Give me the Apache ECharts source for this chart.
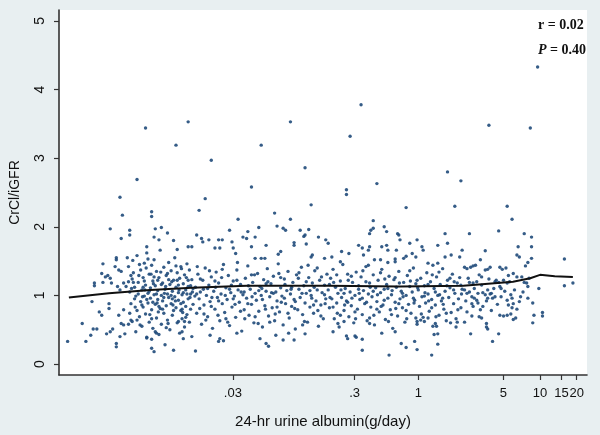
<!DOCTYPE html>
<html><head><meta charset="utf-8">
<script src="https://cdn.jsdelivr.net/npm/echarts@6/dist/echarts.min.js"></script>
<style>html,body{margin:0;padding:0;background:#e8eff1;}#c{width:600px;height:435px;}</style>
</head><body><div id="c"></div>
<script>
// Tick values / labels
const xTickValues = [0.03, 0.3, 1, 5, 10, 15, 20];
const xTickLabels = ['.03', '.3', '1', '5', '10', '15', '20'];
const yTickValues = [0, 1, 2, 3, 4, 5];

// Smoothed fit line: 24-hr urine albumin (g/day) vs CrCl/iGFR
const fitAlbumin = [0.00135, 0.00288, 0.0063, 0.0138, 0.039, 0.182, 0.71, 2.34, 6.0, 8.3, 10, 13.2, 18.6];
const fitRatio   = [0.97, 1.03, 1.08, 1.11, 1.14, 1.14, 1.13, 1.14, 1.20, 1.25, 1.30, 1.28, 1.27];

// Scatter points: [log10 of 24-hr urine albumin (g/day), CrCl/iGFR]
const outlierPoints = [
[-2.24,3.44],[-1.99,3.19],[-1.89,3.53],[-1.70,2.97],[-1.29,3.19],[-1.05,3.53],[-0.56,3.32],[-0.47,3.78],[0.58,3.48],[0.92,3.44],[0.98,4.33],[-0.93,2.86],[-0.59,2.54],[-0.59,2.47],[-0.34,2.63],[0.24,2.80],[0.35,2.67],[0.30,2.30],[-0.10,2.28],[0.73,2.30],[0.77,2.11],[-2.31,2.69],[-2.45,2.43],[-2.43,2.17],[-2.19,2.22],[-2.19,2.15],[-1.75,2.41],[-1.80,2.24],[-1.37,2.58],[-0.88,2.32],[-1.18,2.20],[-1.48,2.11],[-1.05,2.11],[-0.37,2.09]
];
const lowAlbuminPoints = [
[-2.53,1.97],[-2.37,1.95],[-2.37,1.88],[-2.16,1.97],[-2.11,1.99],[-2.06,1.91],[-2.44,1.83],[-2.23,1.71],[-2.17,1.85],[-2.13,1.81],[-2.01,1.80],[-1.98,1.67],[-1.89,1.71],[-1.86,1.71],[-2.59,1.46],[-2.48,1.55],[-2.48,1.52],[-2.39,1.55],
[-2.88,0.33],[-2.76,0.59],[-2.73,0.33],[-2.69,0.42],[-2.67,0.51],[-2.64,0.51],[-2.68,0.91],[-2.66,1.18],[-2.66,1.14],[-2.62,0.76],[-2.60,0.71],[-2.60,1.32],[-2.57,1.27],[-2.55,1.29],[-2.53,1.25],[-2.59,1.19],[-2.52,1.18],[-2.56,0.44],[-2.53,0.47],[-2.51,0.51],[-2.48,0.30],[-2.48,0.25],[-2.54,0.88],[-2.54,0.81],[-2.49,1.42],[-2.46,1.37],[-2.44,1.35],[-2.47,1.13],[-2.45,1.08],[-2.42,1.18],[-2.40,1.13],[-2.38,1.20],[-2.46,0.71],[-2.42,0.79],[-2.44,0.59],[-2.42,0.57],[-2.38,0.58],[-2.36,0.64],[-2.41,0.44],[-2.45,0.40],
[-2.19,0.23],[-2.17,0.18],[-2.23,0.39],[-2.19,0.36],[-2.16,0.47],[-2.15,0.45],[-1.94,0.47],[-1.93,0.37],[-1.97,0.62],[-1.92,0.62],
[-2.38,1.42],[-2.37,1.05],[-2.36,0.88],[-2.35,1.24],[-2.35,0.62],[-2.34,1.33],[-2.33,0.95],[-2.33,1.12],[-2.32,0.47],[-2.31,1.58],[-2.31,0.78],[-2.30,1.02],[-2.30,1.19],[-2.29,0.69],[-2.28,1.37],[-2.28,0.91],[-2.27,1.08],[-2.27,0.55],[-2.26,1.26],[-2.26,0.83],[-2.25,1.47],[-2.25,0.99],[-2.24,1.15],[-2.24,0.73],[-2.23,1.62],[-2.23,0.38],[-2.22,1.03],[-2.22,0.89],[-2.21,1.31],[-2.21,0.61],[-2.20,1.11],[-2.20,0.96],[-2.19,1.44],[-2.19,0.79],[-2.18,1.21],[-2.18,0.52],[-2.17,1.01],[-2.17,1.52],[-2.16,0.87],[-2.16,1.14],[-2.15,0.67],[-2.15,1.35],[-2.14,0.94],[-2.14,1.07],[-2.13,0.43],[-2.13,1.26],[-2.12,0.81],[-2.12,1.66],[-2.11,1.00],[-2.11,0.58],[-2.10,1.18],[-2.10,0.92],[-2.09,1.41],[-2.09,0.74],[-2.08,1.09],[-2.08,0.28],[-2.07,1.29],[-2.07,0.85],[-2.06,1.02],[-2.06,0.64],[-2.05,1.48],[-2.05,0.97],[-2.04,1.16],[-2.04,0.50],[-2.03,1.36],[-2.03,0.88],[-2.02,1.06],[-2.02,0.71],[-2.01,1.22],[-2.01,0.20],[-2.00,0.98],[-2.00,1.55],[-1.99,0.82],[-1.99,1.12],[-1.98,0.60],[-1.98,1.33],[-1.97,0.93],[-1.97,1.04],[-1.96,0.45],[-1.96,1.25],[-1.95,0.78],[-1.95,1.42],[-1.94,1.01],[-1.94,0.66],[-1.93,1.17],[-1.93,0.90],[-1.92,1.30],[-1.92,0.54],[-1.91,1.08],[-1.91,0.84],[-1.90,1.46],[-1.90,0.72],[-1.89,1.13],[-1.89,0.95],[-1.88,1.37],[-1.88,0.61],[-1.87,1.02],[-1.87,0.80],[-1.86,1.23],[-1.86,0.40],[-1.85,1.10],[-1.85,0.87],
[-2.355,1.10],[-2.325,0.83],[-2.295,1.29],[-2.265,0.98],[-2.235,1.40],[-2.205,0.72],[-2.175,1.17],[-2.145,0.89],[-2.115,1.34],[-2.085,1.03],[-2.055,0.59],[-2.025,1.20],[-1.995,0.92],[-1.965,1.08],[-1.935,0.75],[-1.905,1.26],[-1.875,0.97],[-1.855,1.05],[-2.345,1.51],[-2.285,0.57],[-2.245,1.08],[-2.195,1.31],[-2.135,0.76],[-2.075,1.13],[-2.015,0.86],[-1.945,1.39],
[-2.37,0.74],[-2.34,1.19],[-2.32,0.99],[-2.29,1.45],[-2.27,0.86],[-2.25,1.21],[-2.23,0.94],[-2.21,1.06],[-2.19,0.66],[-2.17,1.27],[-2.15,1.02],[-2.13,0.84],[-2.11,1.16],[-2.09,0.97],[-2.07,0.53],[-2.05,1.23],[-2.03,1.00],[-2.01,0.78],[-1.99,1.43],[-1.97,1.15],[-1.95,0.88],[-1.93,1.04],[-1.91,0.68],[-1.89,1.22],[-1.87,1.14],[-2.36,1.29],[-2.31,0.64],[-2.26,1.12],[-2.22,1.53],[-2.18,0.90],[-2.14,1.22],[-2.10,0.80],[-2.06,1.32],[-2.02,0.95],[-1.98,1.22],[-1.94,0.80],[-1.90,1.02]
];
const midAlbuminPoints = [
[-1.83,0.19],[-1.64,0.33],[-1.63,0.37],[-1.60,0.34],[-1.49,0.45],[-1.30,0.37],[-1.25,0.30],[-1.23,0.26],[-1.17,0.42],[-1.11,0.35],[-1.02,0.35],[-0.93,0.44],[-1.71,0.42],
[-1.82,1.88],[-1.78,1.83],[-1.77,1.78],[-1.72,1.81],[-1.64,1.81],[-1.61,1.81],[-1.67,1.69],[-1.63,1.69],[-1.55,1.95],[-1.53,1.78],[-1.52,1.69],[-1.50,1.61],[-1.44,1.85],[-1.41,1.83],[-1.40,1.93],[-1.34,1.85],[-1.37,1.71],[-1.31,1.99],[-1.25,1.73],[-1.16,2.01],[-1.11,1.98],[-1.09,1.95],[-1.15,1.60],[-1.13,1.64],[-1.02,1.73],[-1.02,1.77],[-0.97,1.95],[-0.94,1.86],[-0.93,1.88],[-0.90,1.96],[-0.87,1.59],[-0.88,1.56],[-0.82,1.85],[-0.76,1.81],[-0.77,1.54],[-0.92,1.75],[-1.29,1.54],[-1.26,1.54],[-1.34,1.54],
[-1.83,1.12],[-1.82,0.74],[-1.81,1.31],[-1.80,0.95],[-1.79,1.05],[-1.78,0.58],[-1.77,1.22],[-1.76,0.86],[-1.75,1.40],[-1.74,1.00],[-1.73,0.69],[-1.72,1.15],[-1.71,0.91],[-1.70,1.27],[-1.69,0.52],[-1.68,1.06],[-1.67,0.80],[-1.66,1.34],[-1.65,0.97],[-1.64,1.18],[-1.63,0.63],[-1.62,1.02],[-1.61,0.88],[-1.60,1.45],[-1.59,0.75],[-1.58,1.11],[-1.57,0.94],[-1.56,1.29],[-1.55,0.56],[-1.54,1.04],[-1.53,0.83],[-1.52,1.21],[-1.51,0.99],[-1.50,0.68],[-1.49,1.37],[-1.48,1.08],[-1.47,0.90],[-1.46,1.16],[-1.45,0.48],[-1.44,1.01],[-1.43,0.79],[-1.42,1.25],[-1.41,0.96],[-1.40,1.43],[-1.39,0.71],[-1.38,1.09],[-1.37,0.87],[-1.36,1.19],[-1.35,0.60],[-1.34,1.03],[-1.33,0.93],[-1.32,1.32],[-1.31,0.77],[-1.30,1.13],[-1.29,1.00],[-1.28,0.54],[-1.27,1.23],[-1.26,0.85],[-1.25,1.06],[-1.24,1.39],[-1.23,0.70],[-1.22,0.98],[-1.21,1.17],[-1.20,0.82],[-1.19,1.28],[-1.18,0.63],[-1.17,1.05],[-1.16,0.92],[-1.15,1.46],[-1.14,0.76],[-1.13,1.11],[-1.12,0.99],[-1.11,0.57],[-1.10,1.24],[-1.09,0.88],[-1.08,1.07],[-1.07,1.35],[-1.06,0.67],[-1.05,1.02],[-1.04,0.84],[-1.03,1.19],[-1.02,0.94],[-1.01,0.51],[-1.00,1.30],[-0.99,0.79],[-0.98,1.09],[-0.97,0.97],[-0.96,1.41],[-0.95,0.72],[-0.94,1.14],[-0.93,0.89],[-0.92,1.03],[-0.91,0.61],[-0.90,1.26],[-0.89,0.83],[-0.88,1.00],[-0.87,1.18],[-0.86,0.74],[-0.85,1.36],[-0.84,0.92],[-0.83,1.08],[-0.82,0.55],[-0.81,1.22],[-0.80,0.86],[-0.79,1.04],[-0.78,0.66],[-0.77,1.15],[-0.76,0.95],[-0.75,1.31],
[-1.835,0.99],[-1.815,1.42],[-1.795,0.81],[-1.765,1.09],[-1.745,0.64],[-1.715,1.36],[-1.695,0.97],[-1.665,1.12],[-1.645,0.71],[-1.615,1.26],[-1.585,1.00],[-1.565,0.61],[-1.535,1.15],[-1.505,0.87],[-1.485,1.48],[-1.455,1.05],[-1.425,0.66],[-1.395,1.14],[-1.365,0.98],[-1.345,1.30],[-1.315,0.59],[-1.285,1.10],[-1.255,0.80],[-1.235,1.20],[-1.205,1.04],[-1.175,0.73],[-1.145,1.32],[-1.125,0.90],[-1.095,1.16],[-1.065,0.45],[-1.045,1.09],[-1.015,0.81],[-0.985,1.25],[-0.955,1.03],[-0.935,0.62],[-0.905,1.44],[-0.875,0.96],[-0.855,1.12],[-0.825,0.78],[-0.795,1.27],[-0.765,0.88],
[-1.82,1.02],[-1.79,1.24],[-1.76,0.73],[-1.73,1.10],[-1.70,0.84],[-1.67,1.21],[-1.64,0.92],[-1.61,1.38],[-1.58,0.66],[-1.55,1.09],[-1.52,0.95],[-1.49,1.22],[-1.46,0.77],[-1.43,1.05],[-1.40,0.88],[-1.37,1.30],[-1.34,0.69],[-1.31,1.07],[-1.28,0.94],[-1.25,1.17],[-1.22,0.61],[-1.19,1.03],[-1.16,0.83],[-1.13,1.26],[-1.10,0.96],[-1.07,0.74],[-1.04,1.12],[-1.01,0.91],[-0.98,1.33],[-0.95,0.57],[-0.92,1.20],[-0.89,1.07],[-0.86,0.86],[-0.83,1.40],[-0.80,0.70],[-0.77,1.01]
];
const highAlbuminPoints = [
[-0.74,1.76],[-0.71,1.56],[-0.63,1.64],[-0.57,1.61],[-0.64,1.49],[-0.49,1.73],[-0.46,1.69],[-0.45,1.59],[-0.41,1.66],[-0.40,1.71],[-0.39,1.95],[-0.37,1.98],[-0.40,1.90],[-0.28,2.00],[-0.26,1.93],[-0.30,1.71],[-0.26,1.73],[-0.25,1.66],[-0.17,1.90],[-0.16,1.88],[-0.15,1.81],[-0.18,1.66],[-0.07,1.76],[-0.01,1.81],[0.03,1.71],[0.04,1.66],[-0.05,1.61],[-0.02,1.56],[-0.31,1.52],[-0.36,1.52],[-0.41,1.44],[0.16,1.73],[0.22,1.90],[0.24,1.76],[0.22,1.56],[0.27,1.59],[0.34,1.56],[0.36,1.66],[0.08,1.47],[0.12,1.44],[0.16,1.47],[-0.12,1.54],[-0.10,1.57],[-0.25,1.48],[-0.19,1.53],[-0.19,1.49],
[-0.70,0.47],[-0.59,0.41],[-0.58,0.37],[-0.52,0.41],[-0.51,0.39],[-0.46,0.36],[-0.46,0.20],[-0.30,0.45],[-0.19,0.47],[-0.14,0.30],[-0.10,0.24],[-0.03,0.33],[-0.01,0.21],[-0.24,0.13],[0.11,0.13],[0.13,0.43],[0.16,0.44],[0.16,0.29],[0.14,0.59],[0.15,0.55],[0.31,0.54],[-0.66,0.59],[-0.61,0.62],[-0.40,0.59],[-0.02,0.67],[-0.01,0.62],[0.05,0.62],[0.08,0.67],
[-0.74,1.08],[-0.73,0.82],[-0.72,1.25],[-0.71,0.95],[-0.70,1.38],[-0.69,0.66],[-0.68,1.12],[-0.67,0.89],[-0.66,1.03],[-0.65,0.54],[-0.64,1.21],[-0.63,0.97],[-0.62,1.45],[-0.61,0.78],[-0.60,1.10],[-0.59,0.92],[-0.58,1.31],[-0.57,0.69],[-0.56,1.05],[-0.55,0.85],[-0.54,1.19],[-0.53,0.60],[-0.52,1.00],[-0.51,1.34],[-0.50,0.80],[-0.49,1.14],[-0.48,0.94],[-0.47,1.27],[-0.46,0.72],[-0.45,1.07],[-0.44,0.88],[-0.43,1.42],[-0.42,0.63],[-0.41,1.02],[-0.40,1.18],[-0.39,0.83],[-0.38,0.98],[-0.37,1.30],[-0.36,0.57],[-0.35,1.11],[-0.34,0.91],[-0.33,1.22],[-0.32,0.76],[-0.31,1.04],[-0.30,1.38],[-0.29,0.86],[-0.28,1.09],[-0.27,0.65],[-0.26,1.16],[-0.25,0.96],[-0.24,1.28],[-0.23,0.79],[-0.22,1.01],[-0.21,0.52],[-0.20,1.23],[-0.19,0.90],[-0.18,1.12],[-0.17,0.70],[-0.16,1.35],[-0.15,0.95],[-0.14,1.06],[-0.13,0.82],[-0.12,1.19],[-0.11,0.61],[-0.10,1.00],[-0.09,1.29],[-0.08,0.87],[-0.07,1.13],[-0.06,0.74],[-0.05,1.05],[-0.04,1.40],[-0.03,0.93],[-0.02,1.17],[-0.01,0.58],[0.00,1.08],[0.01,0.84],[0.02,1.25],[0.03,0.98],[0.04,0.68],[0.05,1.14],[0.06,0.89],[0.07,1.33],[0.08,1.02],[0.09,0.77],[0.10,1.20],[0.11,0.94],[0.12,0.55],[0.13,1.10],[0.14,0.86],[0.15,1.27],[0.16,1.00],[0.17,0.71],[0.18,1.16],[0.19,0.92],[0.20,1.39],[0.21,0.80],[0.22,1.06],[0.23,0.63],[0.24,1.22],[0.25,0.97],[0.26,1.11],[0.27,0.75],[0.28,1.31],[0.29,0.88],[0.30,1.03],[0.31,0.66],[0.32,1.18],[0.33,0.95],[0.34,1.26],[0.35,0.82],[0.36,1.09],
[-0.725,0.97],[-0.695,1.19],[-0.665,0.74],[-0.635,1.08],[-0.605,0.86],[-0.575,1.22],[-0.545,0.96],[-0.515,0.66],[-0.485,1.03],[-0.455,1.36],[-0.425,0.90],[-0.395,1.12],[-0.365,0.71],[-0.335,1.01],[-0.305,0.84],[-0.275,1.24],[-0.245,0.62],[-0.215,1.07],[-0.185,0.81],[-0.155,1.18],[-0.125,0.98],[-0.095,0.66],[-0.065,1.21],[-0.035,0.89],[-0.005,1.11],[0.025,0.73],[0.055,1.04],[0.085,0.92],[0.115,1.30],[0.145,0.69],[0.175,1.01],[0.205,0.87],[0.235,1.14],[0.265,0.60],[0.295,1.20],[0.325,0.79],[0.355,1.02],
[-0.73,1.16],[-0.70,0.83],[-0.67,1.30],[-0.64,0.71],[-0.61,1.03],[-0.58,0.90],[-0.55,1.28],[-0.52,0.76],[-0.49,1.09],[-0.46,0.96],[-0.43,1.20],[-0.40,0.67],[-0.37,1.06],[-0.34,0.80],[-0.31,1.33],[-0.28,0.93],[-0.25,1.10],[-0.22,0.72],[-0.19,1.26],[-0.16,0.88],[-0.13,1.03],[-0.10,0.78],[-0.07,1.36],[-0.04,0.96],[-0.01,1.22],[0.02,0.64],[0.05,0.99],[0.08,1.16],[0.11,0.82],[0.14,1.05],[0.17,1.34],[0.20,0.96],[0.23,0.74],[0.26,1.25],[0.29,1.08],[0.32,0.61],[0.35,1.15]
];
const veryHighAlbuminPoints = [
[0.42,1.90],[0.55,1.65],[0.51,1.52],[0.66,1.94],[0.87,1.90],[0.93,1.85],[0.93,1.71],[0.82,1.71],[0.81,1.59],[0.83,1.56],[0.93,1.54],[0.90,1.48],[0.88,1.43],[1.20,1.53],[1.20,1.14],[1.27,1.18],[0.99,1.10],[0.94,0.89],[0.90,0.96],[0.95,0.71],[1.02,0.75],[1.02,0.70],[0.94,0.60],[0.83,0.91],[0.78,0.88],[0.77,0.82],[0.81,0.80],[0.80,0.67],[0.78,0.65],[0.73,0.71],[0.70,0.70],[0.67,0.71],[0.73,0.93],[0.74,0.86],[0.76,1.01],[0.77,0.96],[0.66,0.44],[0.61,0.33],[0.56,0.54],[0.56,0.59],[0.57,0.51],[0.51,0.79],[0.52,0.67],[0.50,0.69],[0.43,0.44],[0.38,0.61],[0.40,0.76],[0.44,0.88],[0.45,0.84],[0.57,1.08],[0.59,1.02],[0.60,1.03],[0.57,0.96],[0.56,0.92],[0.61,0.96],[0.63,0.98],[0.67,1.13],[0.68,1.10],[0.64,1.22],[0.67,1.41],[0.69,1.38],[0.72,1.40],[0.59,1.41],[0.57,1.38],[0.55,1.37],[0.52,1.27],[0.50,1.30],[0.47,1.44],[0.45,1.43],[0.43,1.41],[0.40,1.39],[0.38,1.41],[0.52,1.15],[0.48,1.20],[0.45,1.18],[0.42,1.19],[0.40,1.03],[0.42,1.05],[0.38,1.08],[0.75,1.20],[0.78,1.32],[0.81,1.27],[0.85,1.27],[0.87,1.19],[0.89,1.18],[0.91,1.25],[0.90,1.13],[0.70,1.22],[0.73,1.18],[0.63,1.20],[0.66,1.19],[0.44,0.98],[0.46,0.96],[0.48,0.93],[0.49,0.89],[0.53,1.04],[0.55,1.01],
[0.39,0.92],[0.41,1.25],[0.44,0.70],[0.46,1.10],[0.49,1.03],[0.53,0.84],[0.58,1.24],[0.60,0.78],[0.62,1.10],[0.65,0.87],[0.68,0.98],[0.71,1.06],[0.74,1.29],[0.76,0.73],[0.79,1.08],[0.84,0.98],[0.86,1.05]
];

const allPoints = [].concat(outlierPoints, lowAlbuminPoints, midAlbuminPoints, highAlbuminPoints, veryHighAlbuminPoints)
  .map(p => [Math.pow(10, p[0]), p[1]]);
const fitData = fitAlbumin.map((a, i) => [a, fitRatio[i]]);

const chart = echarts.init(document.getElementById('c'), null, {renderer: 'canvas'});
const axisColor = '#333';
chart.setOption({
  backgroundColor: '#e8eff1',
  animation: false,
  grid: {left: 58, right: 13, top: 10, bottom: 60, show: true, backgroundColor: '#ffffff', borderWidth: 0},
  xAxis: {
    type: 'log', logBase: 10, min: 0.00112, max: 24.3,
    name: '24-hr urine albumin(g/day)', nameLocation: 'middle', nameGap: 39,
    nameTextStyle: {fontFamily: 'Liberation Sans, Arial', fontSize: 15, color: '#111'},
    axisLine: {show: true, onZero: false, lineStyle: {color: axisColor, width: 1.6}},
    axisTick: {show: true, customValues: xTickValues, length: 5, lineStyle: {color: axisColor, width: 1.2}},
    axisLabel: {show: true, customValues: xTickValues, margin: 12, fontFamily: 'Liberation Sans, Arial', fontSize: 13, color: '#111',
      formatter: v => { const i = xTickValues.findIndex(t => Math.abs(t - v) / t < 1e-6); return i >= 0 ? xTickLabels[i] : ''; }},
    splitLine: {show: false}, minorTick: {show: false}, minorSplitLine: {show: false}
  },
  yAxis: {
    type: 'value', min: -0.16, max: 5.16,
    name: 'CrCl/iGFR', nameLocation: 'middle', nameGap: 37, nameRotate: 90,
    nameTextStyle: {fontFamily: 'Liberation Sans, Arial', fontSize: 14, color: '#111'},
    axisLine: {show: true, onZero: false, lineStyle: {color: axisColor, width: 1.6}},
    axisTick: {show: true, customValues: yTickValues, length: 5, lineStyle: {color: axisColor, width: 1.2}},
    axisLabel: {show: true, customValues: yTickValues, rotate: 90, margin: 12, fontFamily: 'Liberation Sans, Arial', fontSize: 14, color: '#111'},
    splitLine: {show: false}
  },
  graphic: [
    {type: 'text', left: 538, top: 18, style: {text: 'r = 0.02', font: 'bold 14px "Liberation Serif", "Times New Roman", serif', fill: '#111'}},
    {type: 'text', left: 538, top: 43, style: {text: '{i|P} = 0.40', rich: {i: {font: 'italic bold 14px "Liberation Serif", serif', fill: '#111'}}, font: 'bold 14px "Liberation Serif", "Times New Roman", serif', fill: '#111'}}
  ],
  series: [
    {type: 'scatter', data: allPoints, symbolSize: 3.4, itemStyle: {color: '#1f4a7a', opacity: 0.9}, z: 2},
    {type: 'line', data: fitData, showSymbol: false, symbol: 'none', lineStyle: {color: '#111', width: 2}, z: 3}
  ]
});
</script>
</body></html>
